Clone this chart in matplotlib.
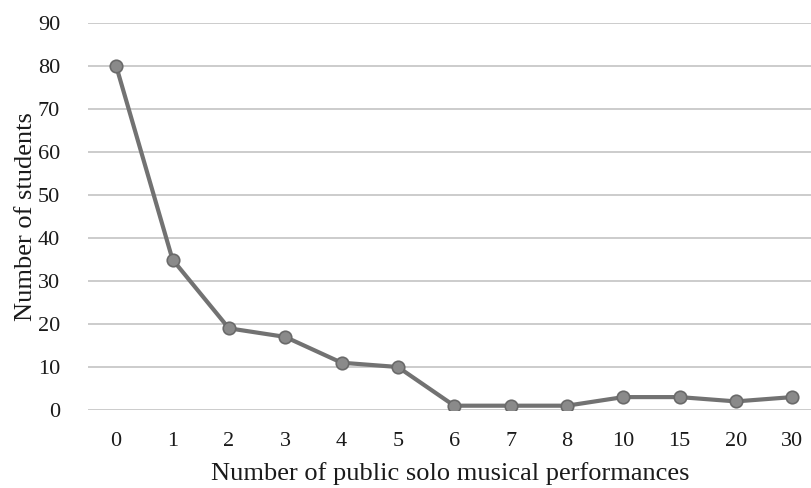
import numpy as np
import matplotlib.pyplot as plt

# performances vs students
categories = ["0", "1", "2", "3", "4", "5", "6", "7", "8", "10", "15", "20", "30"]
students = [80, 35, 19, 17, 11, 10, 1, 1, 1, 3, 3, 2, 3]

plt.rcParams['font.family'] = ['Liberation Serif', 'DejaVu Serif']

fig = plt.figure(figsize=(8.12, 4.88), dpi=100)
ax = fig.add_axes([88/812, 1 - 410/488, 1 - 88/812, (410 - 23)/488])

x = np.arange(len(categories))
ax.plot(x, students, color='#727272', lw=3.0, marker='o', ms=9,
        markerfacecolor='#8a8a8a', markeredgecolor='#6a6a6a', markeredgewidth=1.2, zorder=3)

ax.set_xlim(-0.5, 12.35)
ax.set_ylim(0, 90)
ax.set_yticks(range(0, 91, 10))
ax.set_xticks(x)
ax.set_xticklabels(categories)
ax.grid(axis='y', color='#c4c4c4', lw=1.2)
ax.set_axisbelow(True)
for s in ax.spines.values():
    s.set_visible(False)
ax.tick_params(length=0, labelsize=16, colors='#1a1a1a')
ax.tick_params(axis='x', pad=16)
ax.tick_params(axis='y', pad=20)

ax.set_xlabel("Number of public solo musical performances", fontsize=19, color='#1a1a1a', labelpad=8)
ax.set_ylabel("Number of students", fontsize=19, color='#1a1a1a', labelpad=1)

fig.savefig("out.png", dpi=100)
